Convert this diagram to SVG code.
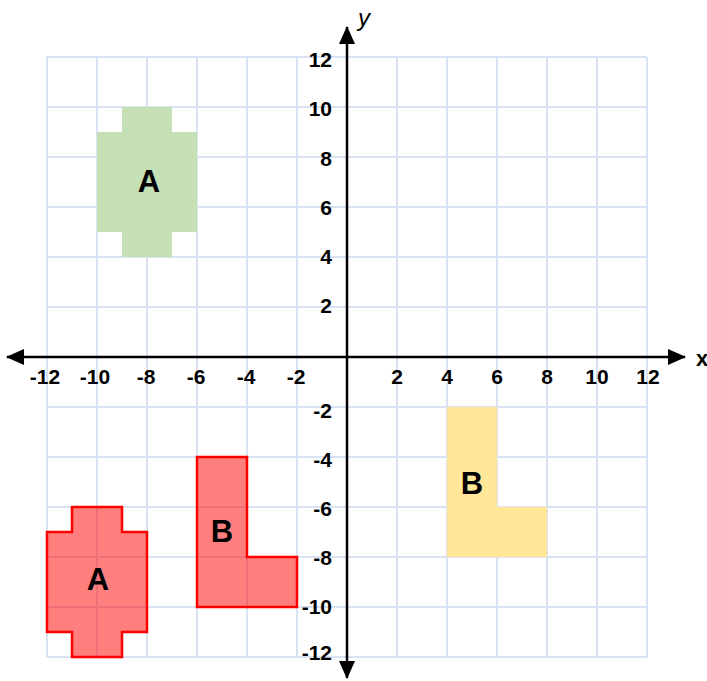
<svg xmlns="http://www.w3.org/2000/svg" width="707" height="681" viewBox="0 0 707 681">
<style>
.grid line{stroke:#d9e2f3;stroke-width:2}
.axis{stroke:#000;stroke-width:2.5;fill:none}
.tick{font-family:"Liberation Sans",Arial,sans-serif;font-weight:bold;font-size:21px;fill:#000}
.tx{text-anchor:middle}
.ty{text-anchor:end}
.lab{font-family:"Liberation Sans",Arial,sans-serif;font-weight:bold;font-size:31px;fill:#000;text-anchor:middle}
.red{fill:#ff0000;fill-opacity:0.5;stroke:#ff0000;stroke-width:2.5;stroke-linejoin:miter}
</style>
<defs>
<marker id="arr" viewBox="0 0 18 16" refX="17" refY="8" markerWidth="18" markerHeight="16" markerUnits="userSpaceOnUse" orient="auto">
<path d="M0,0 L18,8 L0,16 Z" fill="#000"/>
</marker>
</defs>
<rect width="707" height="681" fill="#fff"/>
<g class="grid">
<line x1="47" y1="57" x2="47" y2="657"/><line x1="97" y1="57" x2="97" y2="657"/><line x1="147" y1="57" x2="147" y2="657"/><line x1="197" y1="57" x2="197" y2="657"/><line x1="247" y1="57" x2="247" y2="657"/><line x1="297" y1="57" x2="297" y2="657"/><line x1="347" y1="57" x2="347" y2="657"/><line x1="397" y1="57" x2="397" y2="657"/><line x1="447" y1="57" x2="447" y2="657"/><line x1="497" y1="57" x2="497" y2="657"/><line x1="547" y1="57" x2="547" y2="657"/><line x1="597" y1="57" x2="597" y2="657"/><line x1="647" y1="57" x2="647" y2="657"/>
<line x1="47" y1="57" x2="647" y2="57"/><line x1="47" y1="107" x2="647" y2="107"/><line x1="47" y1="157" x2="647" y2="157"/><line x1="47" y1="207" x2="647" y2="207"/><line x1="47" y1="257" x2="647" y2="257"/><line x1="47" y1="307" x2="647" y2="307"/><line x1="47" y1="357" x2="647" y2="357"/><line x1="47" y1="407" x2="647" y2="407"/><line x1="47" y1="457" x2="647" y2="457"/><line x1="47" y1="507" x2="647" y2="507"/><line x1="47" y1="557" x2="647" y2="557"/><line x1="47" y1="607" x2="647" y2="607"/><line x1="47" y1="657" x2="647" y2="657"/>
</g>
<g id="shapeA-green">
<polygon points="122,107 172,107 172,132 197,132 197,232 172,232 172,257 122,257 122,232 97,232 97,132 122,132" fill="#c5e0b4"/>
<text class="lab" x="149" y="192">A</text>
</g>
<g id="shapeB-yellow">
<polygon points="447,407 497,407 497,507 547,507 547,557 447,557" fill="#ffe699"/>
<text class="lab" x="472" y="494">B</text>
</g>
<g id="shapeA-red">
<polygon class="red" points="72,507 122,507 122,532 147,532 147,632 122,632 122,657 72,657 72,632 47,632 47,532 72,532"/>
<text class="lab" x="98" y="590">A</text>
</g>
<g id="shapeB-red">
<polygon class="red" points="197,457 247,457 247,557 297,557 297,607 197,607"/>
<text class="lab" x="222" y="542">B</text>
</g>
<g id="axes">
<line class="axis" x1="347" y1="357" x2="685" y2="357" marker-end="url(#arr)"/>
<line class="axis" x1="347" y1="357" x2="7" y2="357" marker-end="url(#arr)"/>
<line class="axis" x1="347" y1="357" x2="347" y2="27" marker-end="url(#arr)"/>
<line class="axis" x1="347" y1="357" x2="347" y2="678" marker-end="url(#arr)"/>
</g>
<g id="labels">
<text x="696" y="366" font-family="Liberation Sans, Arial, sans-serif" font-weight="bold" font-size="22">x</text>
<text x="358" y="26" font-family="Liberation Sans, Arial, sans-serif" font-style="italic" font-size="24">y</text>
<g class="tick tx">
<text x="45" y="384">-12</text><text x="95" y="384">-10</text><text x="146" y="384">-8</text><text x="196" y="384">-6</text><text x="246" y="384">-4</text><text x="296" y="384">-2</text>
<text x="397" y="384">2</text><text x="447" y="384">4</text><text x="497" y="384">6</text><text x="547" y="384">8</text><text x="597" y="384">10</text><text x="648" y="384">12</text>
</g>
<g class="tick ty">
<text x="332" y="67">12</text><text x="332" y="116">10</text><text x="332" y="166">8</text><text x="332" y="215">6</text><text x="332" y="264">4</text><text x="332" y="313">2</text>
<text x="332" y="418">-2</text><text x="332" y="467">-4</text><text x="332" y="516">-6</text><text x="332" y="565">-8</text><text x="332" y="614">-10</text><text x="332" y="660">-12</text>
</g>
</g>
</svg>
